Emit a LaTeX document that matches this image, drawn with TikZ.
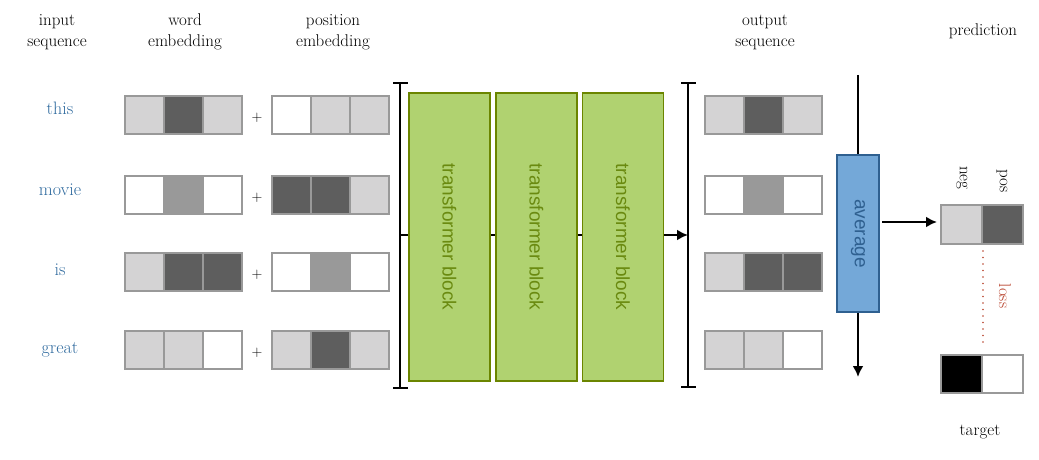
\documentclass[tikz,border=0pt]{standalone}
\usepackage{fontspec}
\usetikzlibrary{arrows.meta}
\setmainfont{Latin Modern Roman}
\newfontfamily\sansf{Liberation Sans}
\begin{document}
\definecolor{cL}{HTML}{D4D3D4}
\definecolor{cD}{HTML}{5E5E5E}
\definecolor{cM}{HTML}{999999}
\definecolor{cW}{HTML}{FFFFFF}
\definecolor{cB}{HTML}{000000}
\definecolor{gfill}{HTML}{B0D270}
\definecolor{gline}{HTML}{6B8500}
\definecolor{gtext}{HTML}{6A8A10}
\definecolor{bfill}{HTML}{74A8D8}
\definecolor{bline}{HTML}{2F6090}
\definecolor{wblue}{HTML}{2F6A9E}
\definecolor{lossred}{HTML}{B8442E}
\begin{tikzpicture}[x=1pt,y=-1pt,
  cell/.style={draw=cM,line width=1.2pt,minimum width=39pt,minimum height=38pt,inner sep=0pt},
  lab/.style={font=\fontsize{17}{21}\selectfont,align=center},
  word/.style={font=\fontsize{18}{21}\selectfont,text=wblue},
  tb/.style={draw=gline,fill=gfill,line width=1.5pt,minimum width=81pt,minimum height=288pt,inner sep=0pt},
  tbt/.style={font=\sansf\fontsize{19}{21}\selectfont,text=gtext,rotate=-90},
  br/.style={line width=2.2pt},
  arr/.style={line width=2.2pt,-{Latex[length=11pt,width=11pt]}}]
\useasboundingbox (0,0) rectangle (1039,460);
% headings
\node[lab] (h1) at (57,32) {input\\sequence};
\node[lab] (h2) at (185,32) {word\\embedding};
\node[lab] (h3) at (333,32) {position\\embedding};
\node[lab] (h4) at (765,32) {output\\sequence};
\node[lab] (h5) at (983,31) {prediction};
\node[lab] (h6) at (980,432) {target};
% words
\node[word] (w1) at (60,108) {this};
\node[word] (w2) at (60,190) {movie};
\node[word] (w3) at (60,270) {is};
\node[word] (w4) at (60,350) {great};
% cells
\foreach \r/\y/\a/\b/\c/\d/\e/\f/\g/\h/\i in {1/115/cL/cD/cL/cW/cL/cL/cL/cD/cL, 2/195/cW/cM/cW/cD/cD/cL/cW/cM/cW, 3/272/cL/cD/cD/cW/cM/cW/cL/cD/cD, 4/350/cL/cL/cW/cL/cD/cL/cL/cL/cW}{
  \node[cell,fill=\a] (a\r) at (144.5,\y) {};
  \node[cell,fill=\b] (b\r) at (183.5,\y) {};
  \node[cell,fill=\c] (c\r) at (222.5,\y) {};
  \node[font=\fontsize{15}{18}\selectfont] (p\r) at (257,\y+3) {+};
  \node[cell,fill=\d] (d\r) at (291.5,\y) {};
  \node[cell,fill=\e] (e\r) at (330.5,\y) {};
  \node[cell,fill=\f] (f\r) at (369.5,\y) {};
  \node[cell,fill=\g] (g\r) at (724.5,\y) {};
  \node[cell,fill=\h] (hh\r) at (763.5,\y) {};
  \node[cell,fill=\i] (i\r) at (802.5,\y) {};
}
% brackets
\coordinate (lt) at (400,83); \coordinate (lb) at (400,388);
\coordinate (rt) at (688,83); \coordinate (rb) at (688,387);
\draw[br] (lt) -- (lb);
\draw[br] (393,83) -- (408,83); \draw[br] (393,388) -- (408,388);
\draw[br] (rt) -- (rb);
\draw[br] (681,83) -- (696,83); \draw[br] (681,387) -- (696,387);
\coordinate (lm) at (400,235); \coordinate (rm) at (688,235);
\draw[arr] (lm) -- (rm);
% transformer blocks
\node[tb] (t1) at (449.5,237) {}; \node[tbt] at (t1) {transformer block};
\node[tb] (t2) at (536.5,237) {}; \node[tbt] at (t2) {transformer block};
\node[tb] (t3) at (623,237) {}; \node[tbt] at (t3) {transformer block};
% average
\node[draw=bline,fill=bfill,line width=1.5pt,minimum width=42pt,minimum height=157pt,inner sep=0pt] (avg) at (858,233.5) {};
\node[font=\sansf\fontsize{19}{21}\selectfont,text=bline,rotate=-90] at (avg) {average};
\coordinate (vt) at (858,75); \coordinate (vb) at (858,377);
\draw[br] (vt) -- (avg.north);
\draw[arr] (avg.south) -- (vb);
% prediction
\node[cell,fill=cL,minimum width=41pt,minimum height=39pt] (pn) at (961.5,224.5) {};
\node[cell,fill=cD,minimum width=41pt,minimum height=39pt] (pp) at (1002.5,224.5) {};
\coordinate (as) at (882,222); \coordinate (ae) at (937,222);
\draw[arr] (as) -- (ae);
\node[lab,rotate=-90] (neg) at (962,178) {neg};
\node[lab,rotate=-90] (pos) at (1002,181) {pos};
% target
\node[cell,fill=cB,minimum width=41pt,minimum height=38pt] (tn) at (961.5,374) {};
\node[cell,fill=cW,minimum width=41pt,minimum height=38pt] (tp) at (1002.5,374) {};
\coordinate (ls) at (983,251); \coordinate (le) at (983,345);
\draw[lossred,line width=1.6pt,dash pattern=on 0pt off 6.5pt,line cap=round] (ls) -- (le);
\node[lab,text=lossred,rotate=-90] (loss) at (1005,296) {loss};
\end{tikzpicture}
\end{document}
